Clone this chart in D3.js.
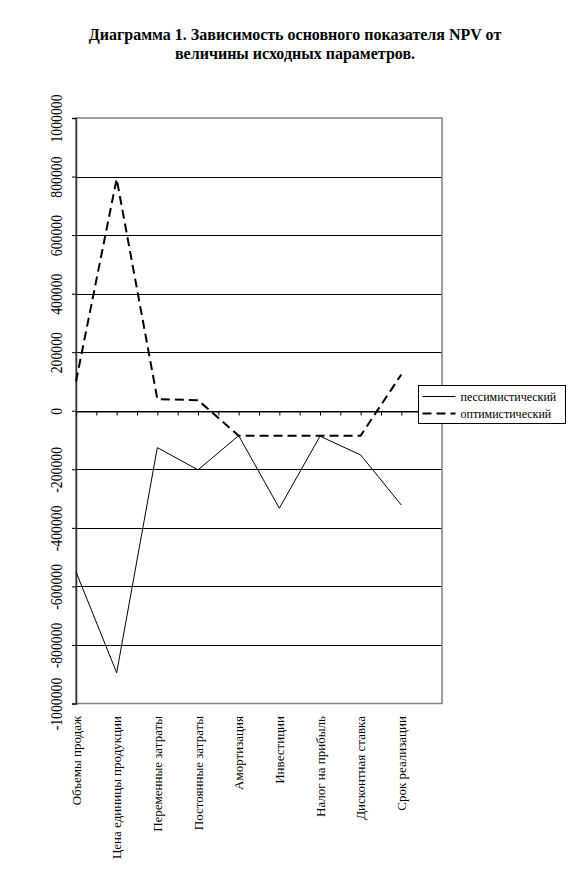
<!DOCTYPE html>
<html>
<head>
<meta charset="utf-8">
<script src="https://cdn.jsdelivr.net/npm/d3@7"></script>
<style>
	body { margin: 0; background: #fff; }
	svg text { font-family: 'Liberation Serif', 'Times New Roman', serif; }
</style>
</head>
<body>
<script>
const categories = ['Объемы продаж', 'Цена единицы продукции', 'Переменные затраты', 'Постоянные затраты',
	'Амортизация', 'Инвестиции', 'Налог на прибыль', 'Дисконтная ставка', 'Срок реализации']
const pessimistic = [-550000, -895000, -126000, -202000, -85000, -333000, -87000, -151000, -322000]
const optimistic = [100000, 792000, 40000, 36000, -85000, -85000, -85000, -85000, 124000]
const seriesNames = ['пессимистический', 'оптимистический']
const yTicks = [-1000000, -800000, -600000, -400000, -200000, 0, 200000, 400000, 600000, 800000, 1000000]
const titleLines = ['Диаграмма 1. Зависимость основного показателя NPV от', 'величины исходных параметров.']

const width = 569, height = 877
const plot = { left: 76, right: 442, top: 118, bottom: 703.5 }

const svg = d3.select('body').append('svg').attr('width', width).attr('height', height)

// title
svg.append('g').selectAll('text').data(titleLines).join('text')
	.attr('x', 295)
	.attr('y', (_, i) => 40 + i * 19)
	.attr('text-anchor', 'middle')
	.attr('font-size', 16)
	.attr('font-weight', 'bold')
	.text(d => d)

const y = d3.scaleLinear().domain([-1000000, 1000000]).range([plot.bottom, plot.top])
const step = (plot.right - plot.left) / categories.length
const x = d3.scalePoint().domain(d3.range(categories.length))
	.range([plot.left, plot.left + step * (categories.length - 1)])
const xTick = d3.scaleLinear().domain([0, categories.length]).range([plot.left, plot.right])

// gridlines
svg.append('g').selectAll('line').data(yTicks.filter(d => d > -1000000 && d < 1000000)).join('line')
	.attr('x1', plot.left).attr('x2', plot.right)
	.attr('y1', d => Math.round(y(d)) + 0.5).attr('y2', d => Math.round(y(d)) + 0.5)
	.attr('stroke', '#000')

// plot border
svg.append('rect')
	.attr('x', plot.left).attr('y', plot.top)
	.attr('width', plot.right - plot.left).attr('height', plot.bottom - plot.top)
	.attr('fill', 'none').attr('stroke', '#808080').attr('stroke-width', 1.5)

// y axis
const yAxis = svg.append('g').attr('transform', `translate(${plot.left},0)`)
	.call(d3.axisLeft(y).tickValues(yTicks).tickSize(4).tickFormat(d => String(d)))
yAxis.select('.domain').attr('stroke', '#333').attr('stroke-width', 1.5)
yAxis.selectAll('.tick text').remove()
yAxis.selectAll('.tick').append('text')
	.attr('fill', '#000')
	.attr('font-size', 16)
	.attr('text-anchor', 'middle')
	.attr('transform', 'translate(-14,0) rotate(-90) scale(0.86,1)')
	.text(d => String(d))

// x axis at zero
const xAxis = svg.append('g').attr('transform', `translate(0,${Math.round(y(0)) + 0.5})`)
	.call(d3.axisBottom(xTick).tickValues(d3.range(0, categories.length + 0.01, 0.5)).tickSize(4).tickFormat(''))
xAxis.select('.domain').attr('stroke', '#000')

// category labels
svg.append('g').selectAll('text').data(categories).join('text')
	.attr('transform', (_, i) => `translate(${x(i)},716) rotate(-90)`)
	.attr('dy', '0.35em')
	.attr('text-anchor', 'end')
	.attr('font-size', 13)
	.text(d => d)

// lines
const line = d3.line().x((_, i) => x(i)).y(d => y(d))
svg.append('path').datum(pessimistic)
	.attr('d', line).attr('fill', 'none').attr('stroke', '#000').attr('stroke-width', 1)
svg.append('path').datum(optimistic)
	.attr('d', line).attr('fill', 'none').attr('stroke', '#000').attr('stroke-width', 2)
	.attr('stroke-dasharray', '9,5')

// legend
const legend = svg.append('g').attr('transform', 'translate(418.5,385.5)')
legend.append('rect').attr('width', 147).attr('height', 38)
	.attr('fill', '#fff').attr('stroke', '#000')
const item = legend.selectAll('g.item').data(seriesNames).join('g').classed('item', true)
	.attr('transform', (_, i) => `translate(0,${11 + i * 17})`)
item.append('line')
	.attr('x1', 4).attr('x2', 37)
	.attr('stroke', '#000')
	.attr('stroke-width', (_, i) => i ? 2 : 1)
	.attr('stroke-dasharray', (_, i) => i ? '9,5' : null)
item.append('text')
	.attr('x', 42).attr('dy', '0.35em')
	.attr('font-size', 12)
	.text(d => d)
</script>
</body>
</html>
